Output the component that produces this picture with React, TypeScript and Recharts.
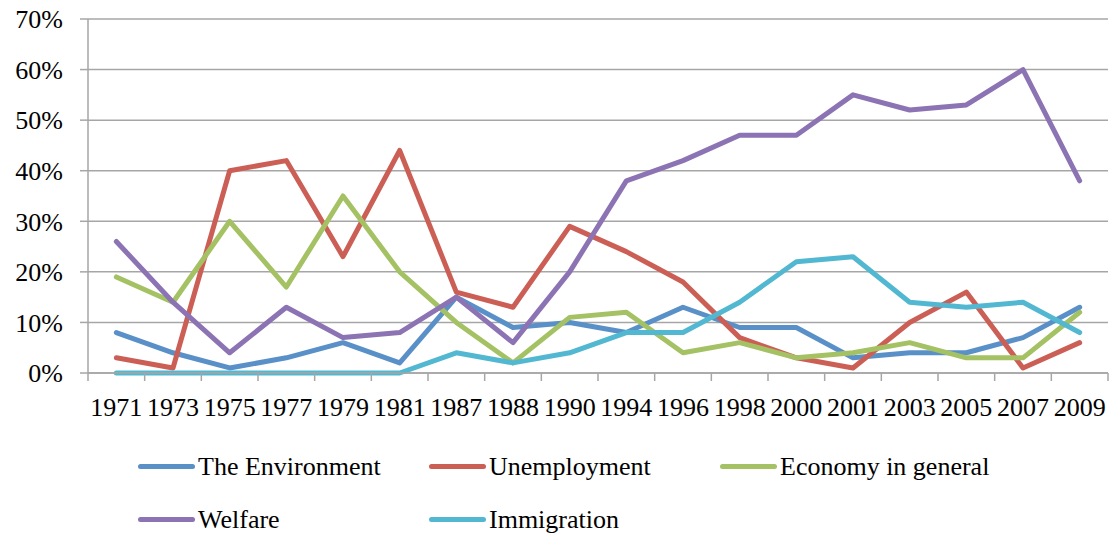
import React from 'react';
import { LineChart, Line, XAxis, YAxis, CartesianGrid, Legend } from 'recharts';

const years = ['1971', '1973', '1975', '1977', '1979', '1981', '1987', '1988', '1990', '1994', '1996', '1998', '2000', '2001', '2003', '2005', '2007', '2009'];

const environment = [8, 4, 1, 3, 6, 2, 15, 9, 10, 8, 13, 9, 9, 3, 4, 4, 7, 13];
const unemployment = [3, 1, 40, 42, 23, 44, 16, 13, 29, 24, 18, 7, 3, 1, 10, 16, 1, 6];
const economy = [19, 14, 30, 17, 35, 20, 10, 2, 11, 12, 4, 6, 3, 4, 6, 3, 3, 12];
const welfare = [26, 14, 4, 13, 7, 8, 15, 6, 20, 38, 42, 47, 47, 55, 52, 53, 60, 38];
const immigration = [0, 0, 0, 0, 0, 0, 4, 2, 4, 8, 8, 14, 22, 23, 14, 13, 14, 8];

const yTicks = [0, 10, 20, 30, 40, 50, 60, 70];

const series = [
  { key: 'environment', name: 'The Environment', color: '#5A90C8' },
  { key: 'unemployment', name: 'Unemployment', color: '#CC5F55' },
  { key: 'economy', name: 'Economy in general', color: '#A4C263' },
  { key: 'welfare', name: 'Welfare', color: '#8C73B3' },
  { key: 'immigration', name: 'Immigration', color: '#52B8D1' },
];

const data = years.map((year, i) => ({
  idx: i,
  year,
  environment: environment[i],
  unemployment: unemployment[i],
  economy: economy[i],
  welfare: welfare[i],
  immigration: immigration[i],
}));

// category centres carry the labels, category edges carry the tick marks
const labelTicks = years.map((_, i) => i);
const edgeTicks = [...years.map((_, i) => i - 0.5), years.length - 0.5];
const xDomain = [-0.5, years.length - 0.5];

const FONT = '"Liberation Serif", "DejaVu Serif", serif';
const GRID = '#A6A6A6';

function LegendGrid({ payload }: any) {
  // keep series order, not alphabetical
  const order = series.map((s) => s.name);
  const items = [...(payload || [])].sort(
    (a: any, b: any) => order.indexOf(a.value) - order.indexOf(b.value)
  );
  return (
    <div
      style={{
        display: 'grid',
        gridTemplateColumns: '291px 291px 291px',
        paddingLeft: 138,
        fontFamily: FONT,
        fontSize: 26,
        color: '#000',
      }}
    >
      {items.map((p: any) => (
        <div key={p.value} style={{ display: 'flex', alignItems: 'center', height: 53 }}>
          <span
            style={{
              display: 'inline-block',
              width: 57,
              height: 5,
              borderRadius: 3,
              background: p.color,
              marginRight: 3,
            }}
          />
          <span>{p.value}</span>
        </div>
      ))}
    </div>
  );
}

export default function App() {
  return (
    <div style={{ position: 'absolute', left: 0, top: 0, background: '#fff' }}>
      <LineChart
        width={1112}
        height={535}
        data={data}
        margin={{ top: 19, right: 4, bottom: 101, left: 0 }}
      >
        <CartesianGrid xAxisId="bounds" vertical={false} stroke={GRID} strokeWidth={1.5} />
        <XAxis
          xAxisId="bounds"
          type="number"
          dataKey="idx"
          domain={xDomain}
          ticks={edgeTicks}
          interval={0}
          height={1}
          tickSize={8}
          tick={() => <g />}
          axisLine={{ stroke: GRID, strokeWidth: 1.5 }}
          tickLine={{ stroke: GRID, strokeWidth: 1.5 }}
        />
        <XAxis
          xAxisId="labels"
          type="number"
          dataKey="idx"
          domain={xDomain}
          ticks={labelTicks}
          interval={0}
          height={60}
          tickSize={7}
          tickMargin={17}
          axisLine={false}
          tickLine={false}
          tickFormatter={(v: number) => years[v]}
          tick={{ fontFamily: FONT, fontSize: 26, fill: '#000' }}
        />
        <YAxis
          domain={[0, 70]}
          ticks={yTicks}
          width={88}
          tickSize={8}
          tickMargin={17}
          tickFormatter={(v: number) => `${v}%`}
          axisLine={{ stroke: GRID, strokeWidth: 1.5 }}
          tickLine={{ stroke: GRID, strokeWidth: 1.5 }}
          tick={{ fontFamily: FONT, fontSize: 26, fill: '#000' }}
        />
        {series.map((s) => (
          <Line
            key={s.key}
            xAxisId="bounds"
            type="linear"
            dataKey={s.key}
            name={s.name}
            stroke={s.color}
            strokeWidth={5}
            strokeLinejoin="round"
            strokeLinecap="round"
            dot={false}
            activeDot={false}
            isAnimationActive={false}
          />
        ))}
        <Legend
          layout="horizontal"
          align="center"
          verticalAlign="middle"
          wrapperStyle={{ top: 440, left: 0, width: 1112 }}
          content={<LegendGrid />}
        />
      </LineChart>
    </div>
  );
}
